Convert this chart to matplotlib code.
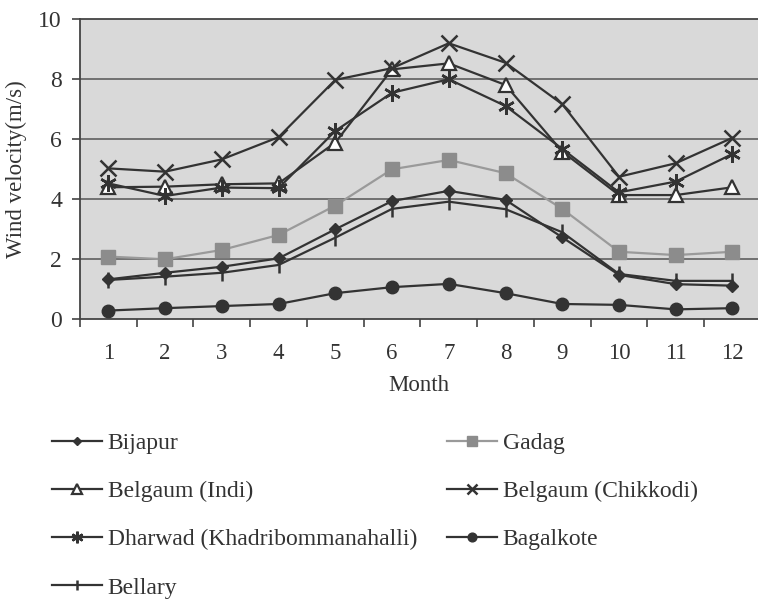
import matplotlib
matplotlib.use("Agg")
import matplotlib.pyplot as plt
import numpy as np

plt.rcParams.update({
    "font.family": "Liberation Serif",
    "font.size": 16,
    "text.color": "#333333",
    "axes.labelcolor": "#333333",
    "xtick.color": "#333333",
    "ytick.color": "#333333",
})

months = list(range(1, 13))

bijapur = [1.32, 1.54, 1.74, 2.02, 2.99, 3.93, 4.27, 3.97, 2.72, 1.47, 1.16, 1.11]
gadag = [2.08, 1.99, 2.30, 2.80, 3.78, 4.99, 5.30, 4.86, 3.67, 2.24, 2.13, 2.24]
belgaum_indi = [4.39, 4.41, 4.49, 4.52, 5.88, 8.32, 8.52, 7.80, 5.58, 4.13, 4.13, 4.39]
belgaum_chikkodi = [5.02, 4.91, 5.32, 6.06, 7.97, 8.36, 9.19, 8.54, 7.16, 4.74, 5.19, 6.04]
dharwad = [4.52, 4.10, 4.38, 4.36, 6.27, 7.54, 7.99, 7.10, 5.67, 4.22, 4.58, 5.50]
bagalkote = [0.28, 0.36, 0.43, 0.50, 0.86, 1.06, 1.17, 0.86, 0.50, 0.47, 0.32, 0.36]
bellary = [1.30, 1.41, 1.54, 1.80, 2.71, 3.67, 3.91, 3.66, 2.89, 1.50, 1.27, 1.27]

DARK = "#333333"
ASTERISK = (6, 2, 0)

fig = plt.figure(figsize=(7.58, 6.04), dpi=100)
ax = fig.add_axes([0.1055, 0.4719, 0.8945, 0.4967])
ax.set_facecolor("#d9d9d9")

for y in [2, 4, 6, 8]:
    ax.axhline(y, color="#555555", lw=1.1, zorder=1)

common = dict(lw=1.6, zorder=3)
h_bij, = ax.plot(months, bijapur, color=DARK, marker="D", ms=6.5,
                 mfc=DARK, mec=DARK, label="Bijapur", **common)
h_gad, = ax.plot(months, gadag, color="#9a9a9a", marker="s", ms=10,
                 mfc="#8c8c8c", mec="#8c8c8c", label="Gadag", **common)
h_ind, = ax.plot(months, belgaum_indi, color=DARK, marker="^", ms=10,
                 mfc="white", mec=DARK, mew=1.6, label="Belgaum (Indi)", **common)
h_chk, = ax.plot(months, belgaum_chikkodi, color=DARK, marker="x", ms=11,
                 mec=DARK, mew=1.8, label="Belgaum (Chikkodi)", **common)
h_dha, = ax.plot(months, dharwad, color=DARK, marker=ASTERISK, ms=12,
                 mec=DARK, mew=1.8, label="Dharwad (Khadribommanahalli)", **common)
h_bag, = ax.plot(months, bagalkote, color=DARK, marker="o", ms=9,
                 mfc=DARK, mec=DARK, label="Bagalkote", **common)
h_bel, = ax.plot(months, bellary, color=DARK, marker="|", ms=11,
                 mec=DARK, mew=1.8, label="Bellary", **common)

ax.set_xlim(0.5, 12.45)
ax.set_ylim(0, 10)
ax.set_yticks([0, 2, 4, 6, 8, 10])
ax.set_xticks(months)
ax.set_xticks(np.arange(0.5, 12.5, 1), minor=True)
ax.tick_params(axis="x", which="major", length=0, pad=17, labelsize=16.5)
ax.tick_params(axis="x", which="minor", length=6, width=1.1, direction="out")
ax.tick_params(axis="y", length=6, width=1.1, direction="out", pad=7, labelsize=17)

for side in ["left", "bottom", "top"]:
    ax.spines[side].set_color("#444444")
    ax.spines[side].set_linewidth(1.3)
ax.spines["right"].set_visible(False)

ax.set_xlabel("Month", fontsize=16.5, labelpad=8)
ax.set_ylabel("Wind velocity(m/s)", fontsize=16.5, labelpad=8)

leg_kw = dict(frameon=False, loc="upper left", borderpad=0, borderaxespad=0,
              handlelength=2.1, handletextpad=0.25, labelspacing=1.13,
              fontsize=17, markerscale=0.7)
fig.legend(handles=[h_bij, h_ind, h_dha, h_bel],
           bbox_to_anchor=(0.069, 0.284), **leg_kw)
fig.legend(handles=[h_gad, h_chk, h_bag],
           bbox_to_anchor=(0.590, 0.284), **leg_kw)

fig.savefig("out.png", dpi=100)
